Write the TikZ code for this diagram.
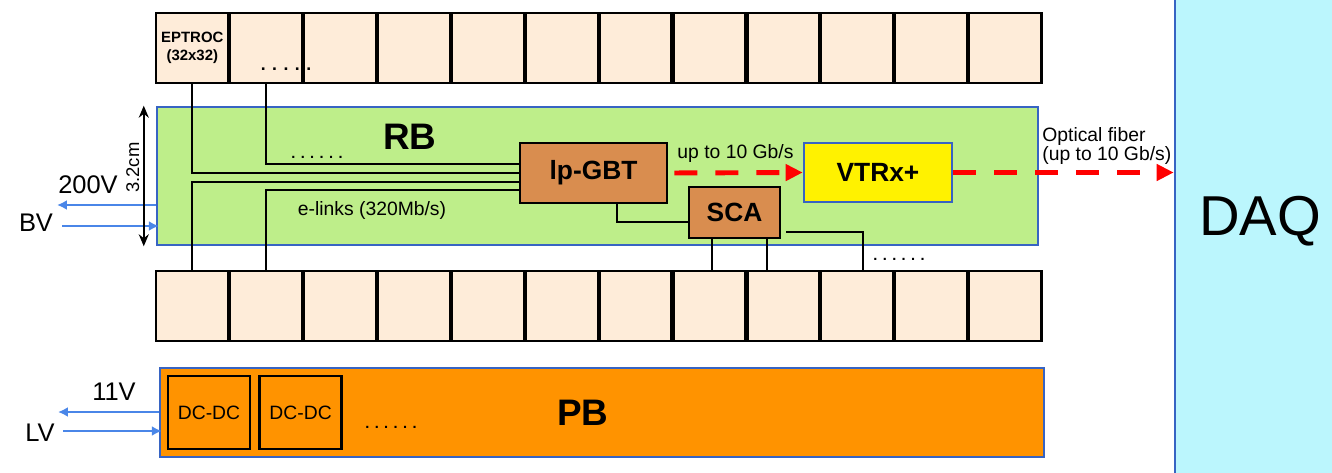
\documentclass[tikz,border=0pt]{standalone}
\usepackage{fontspec}
\setmainfont{Liberation Sans}
\usepackage{xcolor}
\usepackage{tikz}
\usetikzlibrary{arrows.meta,positioning}
\definecolor{chipfill}{RGB}{254,236,217}
\definecolor{rbgreen}{RGB}{190,238,138}
\definecolor{pborange}{RGB}{255,147,0}
\definecolor{asicbrown}{RGB}{217,141,79}
\definecolor{daqcyan}{RGB}{187,246,253}
\definecolor{boardblue}{RGB}{55,100,195}
\definecolor{pwrblue}{RGB}{74,134,232}
\tikzset{
  chip/.style={draw=black, line width=1.6pt, fill=chipfill, outer sep=0pt,
               minimum width=1.45cm, minimum height=1.4cm, inner sep=0pt},
  board/.style={draw=boardblue, line width=1.5pt},
  asic/.style={draw=black, line width=1.5pt, fill=asicbrown,
               font=\fontsize{15}{18}\selectfont\bfseries},
  dcbox/.style={draw=black, line width=1.5pt, fill=pborange,
                minimum width=1.64cm, minimum height=1.46cm,
                font=\fontsize{11}{13}\selectfont},
  linkline/.style={line width=1.1pt},
  fibrearr/.style={-{Triangle[length=0.34cm, width=0.32cm]}, red,
                   line width=2.8pt, dash pattern=on 0.46cm off 0.36cm},
  pwrarr/.style={-{Latex[length=0.2cm, width=0.2cm]}, pwrblue, line width=1.1pt},
  dimarr/.style={{Stealth[length=0.24cm, width=0.2cm]}-{Stealth[length=0.24cm, width=0.2cm]},
                 line width=1.1pt},
  dotsnode/.style={font=\fontsize{8.3}{10}\selectfont\bfseries, inner sep=0pt},
  voltlbl/.style={font=\fontsize{14.5}{16}\selectfont}
}
\begin{document}
\begin{tikzpicture}[x=0.02cm, y=-0.02cm, node distance=0.8pt,
                    every node/.style={font=\fontsize{11}{12}\selectfont}]
        \useasboundingbox (0,0) rectangle (1332,473);

        \node[board, fill=daqcyan, minimum width=3.4cm, minimum height=9.9cm,
              label={[font=\fontsize{32}{36}\selectfont, yshift=0.3cm]center:DAQ}] (daq) at (1260,236) {};

        \node[board, fill=rbgreen, minimum width=17.62cm, minimum height=2.76cm] (rb) at (597.5,176) {};
        \node[font=\fontsize{21}{24}\selectfont\bfseries] (rbname) at (410,137) {RB};

        \node[board, fill=pborange, minimum width=17.68cm, minimum height=1.78cm] (pb) at (602,412.5) {};
        \node[font=\fontsize{21}{24}\selectfont\bfseries] (pbname) at (583,413) {PB};
        \node[dcbox] (dc1) at (209,412.5) {DC-DC};
        \node[dcbox, right=0.14cm of dc1] (dc2) {DC-DC};
        \node[dotsnode] (pbdots) at (391,427) {. . . . . .};

        \node[chip, font=\fontsize{8.5}{10}\selectfont\bfseries, align=center] (tb1) at (192.3,48) {EPTROC\\(32x32)};
        \foreach \i [count=\j] in {2,...,12}
          \node[chip, right=of tb\j] (tb\i) {};
        \node[dotsnode, font=\fontsize{10}{12}\selectfont\bfseries] (tbdots) at (286,69) {. . . . .};

        \node[chip] (bb1) at (192.3,306) {};
        \foreach \i [count=\j] in {2,...,12}
          \node[chip, right=of bb\j] (bb\i) {};

        \node[asic, minimum width=2.94cm, minimum height=1.2cm] (lp) at (593.5,173) {lp-GBT};
        \node[board, fill=yellow, minimum width=2.96cm, minimum height=1.18cm,
              font=\fontsize{15}{18}\selectfont\bfseries] (vtrx) at (878,172.5) {VTRx+};
        \node[asic, minimum width=1.82cm, minimum height=1.02cm] (sca) at (734.5,212.5) {SCA};

        \draw[linkline] (tb1.south) |- (lp.west);
        \draw[linkline] (tb2.south) |- ([yshift=0.18cm]lp.west);
        \draw[linkline] (bb1.north) |- ([yshift=-0.18cm]lp.west);
        \draw[linkline] (bb2.north) |- ([yshift=-0.34cm]lp.west);
        \node[dotsnode] (rbdots) at (317,157) {. . . . . .};
        \node (elinks) at (372,210) {e-links (320Mb/s)};

        \draw[linkline] ([xshift=0.47cm]lp.south) |- ([yshift=-0.19cm]sca.west);
        \draw[linkline] ([xshift=-0.45cm]sca.south) -- ([xshift=-0.45cm]sca.south |- bb8.north);
        \draw[linkline] ([xshift=0.65cm]sca.south) -- ([xshift=0.65cm]sca.south |- bb9.north);
        \draw[linkline] ([xshift=0.1cm, yshift=-0.39cm]sca.east) -| ([xshift=0.12cm]bb10.north);
        \node[dotsnode] (scadots) at (899,259) {. . . . . .};

        \draw[fibrearr, shorten <=0.12cm] (lp.east) -- node[above=1pt, text=black] (gbtrate) {up to 10 Gb/s} (vtrx.west);
        \draw[fibrearr] (vtrx.east) -- (vtrx.east -| daq.west);
        \node[align=left, anchor=west, inner sep=0pt, font=\fontsize{11}{10.8}\selectfont]
              (fibrelbl) at (1042,146) {Optical fiber\\(up to 10 Gb/s)};

        \coordinate (bvout) at (57,205);
        \coordinate (bvin) at (62,226);
        \coordinate (lvout) at (58,412);
        \coordinate (lvin) at (63,431);
        \draw[pwrarr] (rb.west |- bvout) -- (bvout);
        \draw[pwrarr] (bvin) -- ([xshift=0.06cm]rb.west |- bvin);
        \draw[pwrarr] (pb.west |- lvout) -- (lvout);
        \draw[pwrarr] (lvin) -- ([xshift=0.06cm]pb.west |- lvin);
        \node[voltlbl] (hv) at (88,185) {200V};
        \node[voltlbl] (bv) at (36,223) {BV};
        \node[voltlbl] (lvvolt) at (114,392) {11V};
        \node[voltlbl] (lv) at (40,433) {LV};

        \draw[dimarr] ([xshift=-0.24cm]rb.south west) --
              node[sloped, above, pos=0.56, inner sep=2pt, font=\fontsize{10.5}{12}\selectfont] (dimlbl) {3.2cm}
              ([xshift=-0.24cm]rb.north west);
      \end{tikzpicture}
\end{document}
